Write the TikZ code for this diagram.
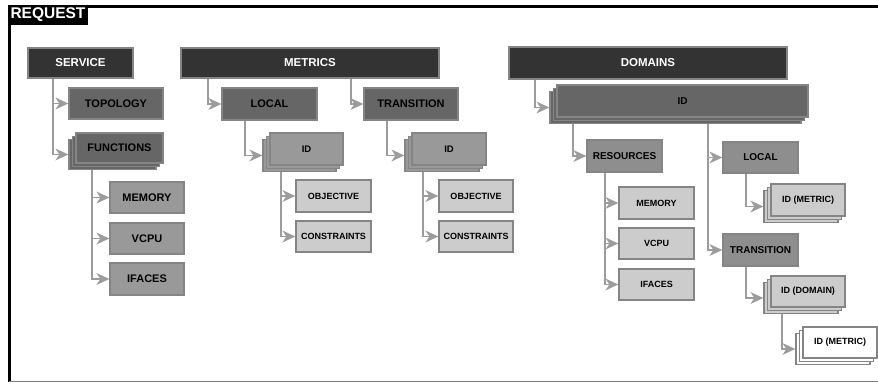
\documentclass[tikz,border=0pt]{standalone}
\usepackage{fontspec}
\setmainfont{Liberation Sans}
\usetikzlibrary{calc}
\definecolor{cA}{HTML}{333333}
\definecolor{cB}{HTML}{666666}
\definecolor{cC}{HTML}{999999}
\definecolor{cCd}{HTML}{8E8E8E}
\definecolor{cD}{HTML}{CCCCCC}
\definecolor{bord}{HTML}{858585}
\definecolor{lnk}{HTML}{9C9C9C}
\newcommand{\bx}[7]{%
  \node[#6, minimum width={#4-#2}, minimum height={#5-#3}] (#1) at ({(#2+#4)/2},{(#3+#5)/2}) {#7};}
\newcommand{\stk}[7]{%
  \node[#6, minimum width={#4-#2}, minimum height={#5-#3}] (#1-b) at ({(#2+#4)/2-7},{(#3+#5)/2+6.5}) {};
  \node[#6, minimum width={#4-#2}, minimum height={#5-#3}] (#1-m) at ({(#2+#4)/2-3.5},{(#3+#5)/2+3.25}) {};
  \node[#6, minimum width={#4-#2}, minimum height={#5-#3}] (#1) at ({(#2+#4)/2},{(#3+#5)/2}) {#7};}
% connector: from parent node #1 (trunk at #2 pt right of its south west) to node #3
\newcommand{\cn}[3]{%
  \draw[conn] ($(#1.south west)+(#2,0)$) |- ($(#3.west)+(-7,0)$);
  \fill[lnk] (#3.west) -- ++(-13,-6) -- ++(4,6) -- ++(-4,6) -- cycle;}
\begin{document}
\begin{tikzpicture}[x=1pt,y=-1pt,
  base/.style={draw=bord, line width=1.3pt, inner sep=0pt, text=black},
  hdr/.style={base, fill=cA, text=white, font=\bfseries\fontsize{11.5}{12}\selectfont},
  lvB/.style={base, fill=cB, font=\bfseries\fontsize{11}{12}\selectfont},
  lvBs/.style={base, fill=cB, font=\bfseries\fontsize{10}{12}\selectfont},
  lvC/.style={base, fill=cC, font=\bfseries\fontsize{11}{12}\selectfont},
  lvCs/.style={base, fill=cC, font=\bfseries\fontsize{9.5}{12}\selectfont},
  lvCm/.style={base, fill=cCd, font=\bfseries\fontsize{10}{12}\selectfont},
  lvD/.style={base, fill=cD, font=\bfseries\fontsize{9}{12}\selectfont},
  lvW/.style={base, fill=white, font=\bfseries\fontsize{9}{12}\selectfont},
  conn/.style={draw=lnk, line width=1.8pt}]
\useasboundingbox (0,0) rectangle (878,383);
% frame
\draw[line width=2.5pt] (8,6.5) -- (878,6.5);
\draw[line width=3pt] (9,5.5) -- (9,382);
\draw[draw=gray, line width=1pt] (9,381.5) -- (878,381.5);
\node[fill=black, text=white, inner sep=0pt, minimum width=80pt, minimum height=19pt, font=\bfseries\fontsize{15.5}{16}\selectfont] (req) at (48,15) {REQUEST};
% headers
\bx{svc}{28}{48}{133}{78}{hdr}{SERVICE}
\bx{met}{181}{48}{439}{78}{hdr}{METRICS}
\bx{dom}{509}{47}{787}{79}{hdr}{DOMAINS}
% service
\bx{topo}{69}{88}{163}{119}{lvB}{TOPOLOGY}
\stk{func}{76}{133}{163}{163}{lvB}{FUNCTIONS}
\bx{memA}{110}{182}{184}{213}{lvC}{MEMORY}
\bx{vcpuA}{110}{223}{184}{254}{lvC}{VCPU}
\bx{ifcA}{110}{263}{184}{295}{lvC}{IFACES}
% metrics
\bx{mloc}{222}{88}{317}{120}{lvB}{LOCAL}
\bx{mtr}{364}{88}{458}{120}{lvB}{TRANSITION}
\stk{lid}{270}{133}{343}{165}{lvCs}{ID}
\stk{tid}{412}{133}{486}{165}{lvCs}{ID}
\bx{objA}{296}{180}{371}{212}{lvD}{OBJECTIVE}
\bx{conA}{296}{221}{371}{252}{lvD}{CONSTRAINTS}
\bx{objB}{439}{180}{513}{212}{lvD}{OBJECTIVE}
\bx{conB}{439}{221}{513}{252}{lvD}{CONSTRAINTS}
% domains
\stk{did}{557}{85}{808}{117}{lvBs}{ID}
\bx{res}{587}{140}{662}{172}{lvCm}{RESOURCES}
\bx{memB}{619}{187}{694}{219}{lvD}{MEMORY}
\bx{vcpuB}{619}{228}{694}{259}{lvD}{VCPU}
\bx{ifcB}{619}{269}{694}{300}{lvD}{IFACES}
\bx{dloc}{723}{142}{798}{173}{lvCm}{LOCAL}
\stk{lidm}{771}{184}{845}{216}{lvD}{ID (METRIC)}
\bx{dtr}{723}{234}{798}{266}{lvCm}{TRANSITION}
\stk{ddom}{771}{276}{845}{307}{lvD}{ID (DOMAIN)}
\stk{dmet}{803}{327}{877}{358}{lvW}{ID (METRIC)}
% connectors
\cn{svc}{26}{topo}
\cn{svc}{26}{func-b}
\cn{func-b}{24}{memA}
\cn{func-b}{24}{vcpuA}
\cn{func-b}{24}{ifcA}
\cn{met}{28}{mloc}
\cn{met}{171}{mtr}
\cn{mloc}{24}{lid-b}
\cn{mtr}{24}{tid-b}
\cn{lid-b}{19}{objA}
\cn{lid-b}{19}{conA}
\cn{tid-b}{19}{objB}
\cn{tid-b}{19}{conB}
\cn{dom}{27}{did-b}
\cn{did-b}{24}{res}
\cn{did-b}{159}{dloc}
\cn{did-b}{159}{dtr}
\cn{res}{19}{memB}
\cn{res}{19}{vcpuB}
\cn{res}{19}{ifcB}
\cn{dloc}{24}{lidm-b}
\cn{dtr}{24}{ddom-b}
\cn{ddom-b}{19}{dmet-b}
\end{tikzpicture}
\end{document}
